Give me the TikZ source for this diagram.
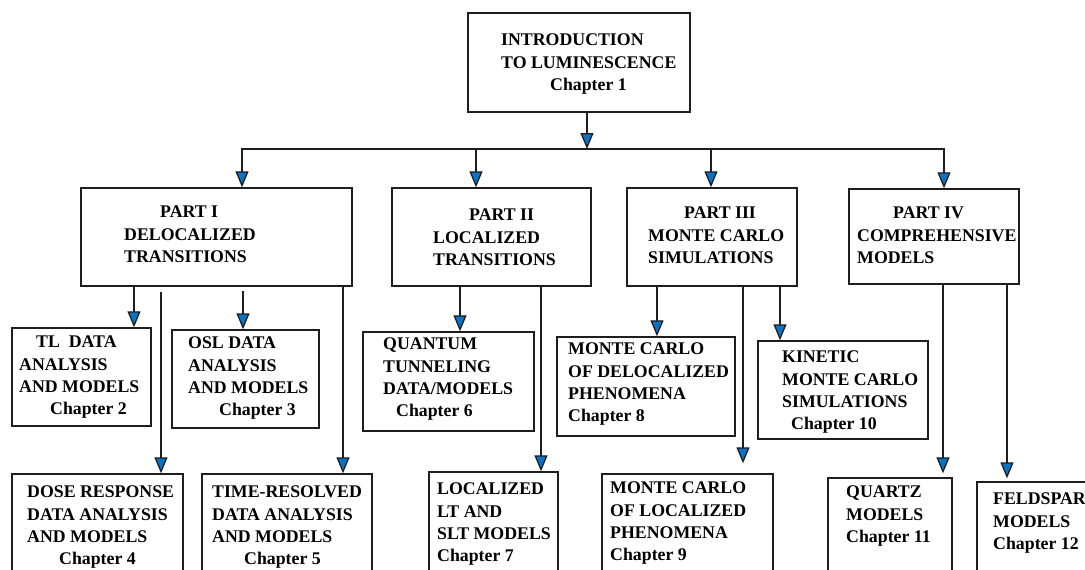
\documentclass[tikz,border=0pt]{standalone}
\usepackage{fontspec}
\setmainfont{Liberation Serif}
\usetikzlibrary{arrows.meta}
\definecolor{tipblue}{RGB}{10,115,200}
\definecolor{ink}{RGB}{30,30,30}
\tikzset{
  blk/.style={draw=ink, line width=1.4pt, rectangle, inner sep=0pt, fill=white},
  txt/.style={anchor=north west, inner sep=0pt, align=left,
    font=\fontsize{17.8}{22.2}\selectfont\bfseries, text=black},
  ln/.style={draw=ink, line width=1.3pt},
  arr/.style={ln, -{Triangle[length=16pt,width=13pt,fill=tipblue]}},
  bus/.style={draw=ink, line width=1.8pt}
}
% box from its left, top, right and bottom edges
\newcommand\blk[5]{\node[blk, minimum width={(#4)-(#2)}, minimum height={(#5)-(#3)}]
  (#1) at ({((#2)+(#4))/2},{((#3)+(#5))/2}) {};}
\begin{document}
\begin{tikzpicture}[x=1pt,y=-1pt]
\useasboundingbox (0,0) rectangle (1085,570);
\clip (0,0) rectangle (1085,570);

% boxes
\blk{intro}{468}{13}{690}{112}
\blk{p1}{81}{188}{352}{286}
\blk{p2}{392}{188}{591}{286}
\blk{p3}{627}{188}{797}{286}
\blk{p4}{849}{189}{1019}{284}
\blk{tl}{12}{328}{151}{426}
\blk{osl}{172}{330}{319}{428}
\blk{dose}{12}{474}{183}{600}
\blk{time}{202}{474}{372}{600}
\blk{qt}{363}{332}{534}{431}
\blk{loc}{429}{472}{558}{600}
\blk{mcd}{557}{337}{735}{436}
\blk{mcl}{602}{474}{773}{600}
\blk{kin}{758}{341}{928}{439}
\blk{qz}{828}{478}{952}{600}
\blk{fs}{977}{482}{1100}{600}

% labels
\node[txt] (intro-t) at (501,34) {INTRODUCTION\\TO LUMINESCENCE\\\hspace*{49pt}Chapter 1};
\node[txt] (p1-t) at (124,206) {\hspace*{36pt}PART I\\DELOCALIZED\\TRANSITIONS};
\node[txt] (p2-t) at (433,209) {\hspace*{36pt}PART II\\LOCALIZED\\TRANSITIONS};
\node[txt] (p3-t) at (648,207) {\hspace*{36pt}PART III\\MONTE CARLO\\SIMULATIONS};
\node[txt] (p4-t) at (857,207) {\hspace*{36pt}PART IV\\COMPREHENSIVE\\MODELS};
\node[txt] (tl-t) at (19,336) {\hspace*{17pt}TL\ \ DATA\\ANALYSIS\\AND MODELS\\\hspace*{31pt}Chapter 2};
\node[txt] (osl-t) at (188,337) {OSL DATA\\ANALYSIS\\AND MODELS\\\hspace*{31pt}Chapter 3};
\node[txt] (dose-t) at (27,486) {DOSE RESPONSE\\DATA ANALYSIS\\AND MODELS\\\hspace*{32pt}Chapter 4};
\node[txt] (time-t) at (212,486) {TIME-RESOLVED\\DATA ANALYSIS\\AND MODELS\\\hspace*{32pt}Chapter 5};
\node[txt] (qt-t) at (383,338) {QUANTUM\\TUNNELING\\DATA/MODELS\\\hspace*{13pt}Chapter 6};
\node[txt] (loc-t) at (437,483) {LOCALIZED\\LT AND\\SLT MODELS\\Chapter 7};
\node[txt] (mcd-t) at (568,343) {MONTE CARLO\\OF DELOCALIZED\\PHENOMENA\\Chapter 8};
\node[txt] (mcl-t) at (610,482) {MONTE CARLO\\OF LOCALIZED\\PHENOMENA\\Chapter 9};
\node[txt] (kin-t) at (782,351) {KINETIC\\MONTE CARLO\\SIMULATIONS\\\hspace*{9pt}Chapter 10};
\node[txt] (qz-t) at (846,486) {QUARTZ\\MODELS\\Chapter 11};
\node[txt] (fs-t) at (993,493) {FELDSPAR\\MODELS\\Chapter 12};

% distribution bus below the introduction
\coordinate (c0) at (587,149);
\coordinate (b1) at (242,149);
\coordinate (b2) at (476,149);
\coordinate (b3) at (711,149);
\coordinate (b4) at (944,149);
\draw[arr] (c0 |- intro.south) -- (c0);
\draw[bus, line cap=rect] (b1) -- (b4);
\draw[arr] (b1) -- (b1 |- p1.north);
\draw[arr] (b2) -- (b2 |- p2.north);
\draw[arr] (b3) -- (b3 |- p3.north);
\draw[arr] (b4) -- (b4 |- p4.north);

% part I branches
\coordinate (s1) at (134,0);
\coordinate (s2) at (161,0);
\coordinate (s3) at (243,0);
\coordinate (s4) at (343,0);
\draw[arr] (s1 |- p1.south) -- (s1 |- tl.north);
\draw[arr] ([yshift=-5pt]s2 |- p1.south) -- (s2 |- dose.north);
\draw[arr] ([yshift=-4pt]s3 |- p1.south) -- (s3 |- osl.north);
\draw[arr] (s4 |- p1.south) -- (s4 |- time.north);

% part II branches
\coordinate (s5) at (460,0);
\coordinate (s6) at (541,0);
\draw[arr] (s5 |- p2.south) -- (s5 |- qt.north);
\draw[arr] (s6 |- p2.south) -- (s6 |- loc.north);

% part III branches
\coordinate (s7) at (657,0);
\coordinate (s8) at (743,0);
\coordinate (s9) at (780,0);
\draw[arr] (s7 |- p3.south) -- (s7 |- mcd.north);
\draw[arr] (s8 |- p3.south) -- ([yshift=10pt]s8 |- mcl.north);
\draw[arr] (s9 |- p3.south) -- (s9 |- kin.north);

% part IV branches
\coordinate (s10) at (943,0);
\coordinate (s11) at (1007,0);
\draw[arr] (s10 |- p4.south) -- ([yshift=4pt]s10 |- qz.north);
\draw[arr] (s11 |- p4.south) -- ([yshift=3pt]s11 |- fs.north);
\end{tikzpicture}
\end{document}
